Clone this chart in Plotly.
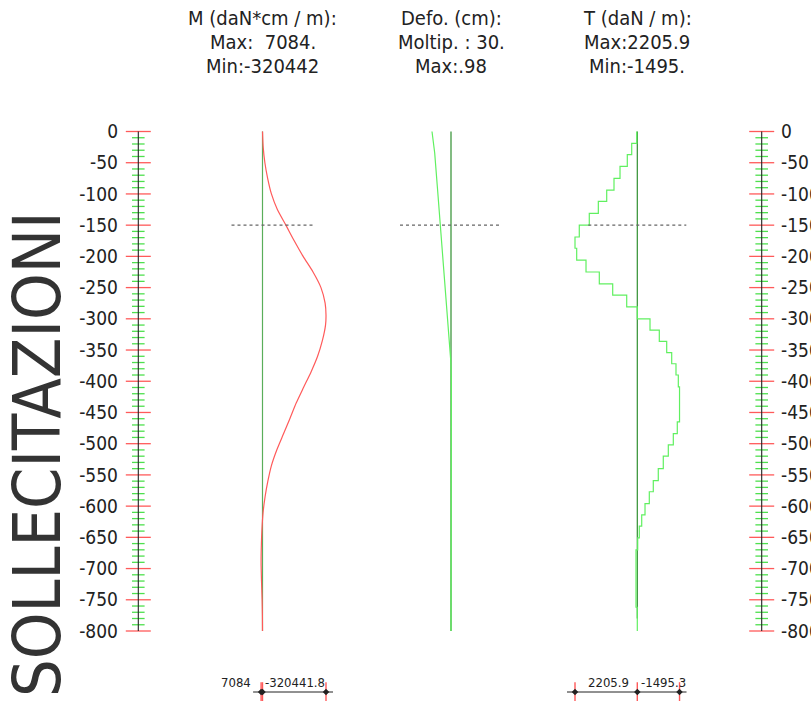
import plotly.graph_objects as go

# ---------------- data ----------------
depth_major = list(range(0, -801, -50))
depth_minor = [d for d in range(0, -801, -10) if d % 50 != 0]
tick_labels = [str(d) for d in depth_major]
excavation_depth = -150
wall_top = 0
wall_bottom = -800

# bending moment M (daN*cm/m) vs depth (cm)
m_depth = [0, -25, -50, -75, -100, -125, -150, -175, -200, -225, -250, -275, -294,
           -310, -335, -360, -385, -410, -435, -460, -485, -510, -535, -560, -585,
           -610, -635, -660, -690, -720, -750, -775, -800]
m_val = [0, -3500, -12000, -26000, -45000, -75000, -118000, -160000, -205000, -255000,
         -295000, -316000, -320441.8, -318000, -302000, -278000, -245000, -207000,
         -170000, -138000, -105000, -72000, -45000, -27000, -13000, -3000, 2500, 5500,
         7084, 5000, 2000, 500, 0]
m_max = 7084.0
m_min = -320441.8

# deformation (cm) vs depth (cm)
defo_depth = [0, -34, -88, -150, -197, -252, -307, -334, -361, -372, -400, -450, -481, -520, -800]
defo_val = [0.98, 0.842, 0.705, 0.55, 0.43, 0.292, 0.155, 0.086, 0.034, 0.0, -0.02, -0.02, 0.0, 0.0, 0.0]
defo_mult = 30
defo_max = 0.98

# shear T (daN/m) vs depth (cm) - step values starting at each depth
t_depth = [0, -19, -37, -56, -75, -94, -112, -131, -150, -169, -187, -206, -225, -244, -262,
           -281, -300, -318, -336, -354, -372, -390, -409, -465, -484, -502, -520, -540,
           -559, -577, -596, -614, -632, -651, -670, -762]
t_val = [20, 198, 354, 612, 825, 1083, 1380, 1700, 2054, 2205.9, 2146, 1816, 1345, 871, 375,
         0, -450, -779, -1041, -1218, -1370, -1452, -1495.3, -1416, -1275, -1098, -920, -743,
         -566, -425, -273, -156, -71, -14, 46, 0]
t_max = 2205.9
t_min = -1495.3

title_m = ["M (daN*cm / m):", "Max: \u00a07084.", "Min:-320442"]
title_d = ["Defo. (cm):", "Moltip. : 30.", "Max:.98"]
title_t = ["T (daN / m):", "Max:2205.9", "Min:-1495."]
scale_m_labels = ["7084", "-320441.8"]
scale_t_labels = ["2205.9", "-1495.3"]
side_title = "SOLLECITAZIONI"

# ---------------- layout constants (pixels) ----------------
W, H = 811, 701
Y0_PX, Y800_PX = 131.5, 631.0
PX_PER_CM = (Y800_PX - Y0_PX) / 800.0
Y_MAX = Y0_PX / PX_PER_CM
Y_MIN = -(H - Y0_PX) / PX_PER_CM
BAR_PX = 692.0
bar_depth = -(BAR_PX - Y0_PX) / PX_PER_CM

FONT = "Liberation Sans Narrow, Arial Narrow, DejaVu Sans Condensed, sans-serif"
RED = "#ff5a5a"
GREEN_MINOR = "#4ee04e"
M_AXIS_GREEN = "#5aae5a"
DARK_GREEN = "#2f8f2f"
LIGHT_GREEN = "#60f060"
BLACK = "#222222"
DASH = "#666666"
TEXT = "#222222"

# axis pixel anchors and scales (units per pixel; positive values plotted to the left)
M_AXIS_PX, M_UPP = 262.5, abs(m_min) / 63.5
D_AXIS_PX, D_UPP = 451.0, defo_max / 19.0
T_AXIS_PX, T_UPP = 637.3, t_max / 62.3
RL_PX, RR_PX = 138.3, 761.7


def rev_range(axis_px, upp):
    return [axis_px * upp, -(W - axis_px) * upp]


def segs(depths, half):
    xs, ys = [], []
    for d in depths:
        xs += [-half, half, None]
        ys += [d, d, None]
    return xs, ys


fig = go.Figure()

# ---------------- rulers ----------------
for xa, ya in (("x4", "y"), ("x5", "y2")):
    xs, ys = segs(depth_minor, 6.3)
    fig.add_trace(go.Scatter(x=xs, y=ys, xaxis=xa, yaxis=ya, mode="lines",
                             line=dict(color=GREEN_MINOR, width=1.3), hoverinfo="skip"))
    xs, ys = segs(depth_major, 12.5)
    fig.add_trace(go.Scatter(x=xs, y=ys, xaxis=xa, yaxis=ya, mode="lines",
                             line=dict(color=RED, width=1.3), hoverinfo="skip"))
    fig.add_trace(go.Scatter(x=[0, 0], y=[wall_top, wall_bottom], xaxis=xa, yaxis=ya,
                             mode="lines", line=dict(color=BLACK, width=1.1), hoverinfo="skip"))

# ---------------- M diagram ----------------
fig.add_trace(go.Scatter(x=[0, 0], y=[wall_top, wall_bottom], xaxis="x", yaxis="y", mode="lines",
                         line=dict(color=M_AXIS_GREEN, width=1.2)))
fig.add_trace(go.Scatter(x=m_val, y=m_depth, xaxis="x", yaxis="y", mode="lines",
                         line=dict(color=RED, width=1.2, shape="spline", smoothing=0.6)))
fig.add_trace(go.Scatter(x=[31 * M_UPP, -51 * M_UPP], y=[excavation_depth] * 2, xaxis="x", yaxis="y",
                         mode="lines", line=dict(color=DASH, width=1.3, dash="dot")))

# ---------------- deformation diagram ----------------
fig.add_trace(go.Scatter(x=[0, 0], y=[wall_top, wall_bottom], xaxis="x2", yaxis="y", mode="lines",
                         line=dict(color=DARK_GREEN, width=1.2)))
fig.add_trace(go.Scatter(x=defo_val, y=defo_depth, xaxis="x2", yaxis="y", mode="lines",
                         line=dict(color=LIGHT_GREEN, width=1.2)))
fig.add_trace(go.Scatter(x=[51 * D_UPP, -49 * D_UPP], y=[excavation_depth] * 2, xaxis="x2", yaxis="y",
                         mode="lines", line=dict(color=DASH, width=1.3, dash="dot")))

# ---------------- shear diagram ----------------
fig.add_trace(go.Scatter(x=[0, 0], y=[wall_top, -780], xaxis="x3", yaxis="y", mode="lines",
                         line=dict(color=DARK_GREEN, width=1.2)))
fig.add_trace(go.Scatter(x=t_val + [t_val[-1]], y=t_depth + [wall_bottom], xaxis="x3", yaxis="y",
                         mode="lines", line=dict(color=LIGHT_GREEN, width=1.2, shape="vh")))
fig.add_trace(go.Scatter(x=[49 * T_UPP, -49 * T_UPP], y=[excavation_depth] * 2, xaxis="x3", yaxis="y",
                         mode="lines", line=dict(color=DASH, width=1.3, dash="dot")))

# ---------------- bottom scale bars ----------------
for xa, vmax, vmin, upp in (("x", m_max, m_min, M_UPP), ("x3", t_max, t_min, T_UPP)):
    fig.add_trace(go.Scatter(x=[vmax + 8 * upp, vmin - 7 * upp], y=[bar_depth] * 2, xaxis=xa, yaxis="y",
                             mode="lines", line=dict(color=BLACK, width=1)))
    fig.add_trace(go.Scatter(x=[vmax, 0, vmin], y=[bar_depth] * 3, xaxis=xa, yaxis="y", mode="markers",
                             marker=dict(symbol="line-ns-open", size=14, color=RED,
                                         line=dict(color=RED, width=1.4))))
    fig.add_trace(go.Scatter(x=[vmax, 0, vmin], y=[bar_depth] * 3, xaxis=xa, yaxis="y", mode="markers",
                             marker=dict(symbol="diamond", size=5, color=BLACK)))

ann = []
lab_font = dict(family=FONT, size=13, color=TEXT)
for xa, xv, txt, sh in (("x", m_max, scale_m_labels[0], -8), ("x", m_min, scale_m_labels[1], 1),
                         ("x3", 0, scale_t_labels[0], -6), ("x3", t_min, scale_t_labels[1], 8)):
    ann.append(dict(xref=xa, yref="y", x=xv, y=bar_depth, text=txt, showarrow=False,
                    xanchor="right", yanchor="bottom", xshift=sh, yshift=0, font=lab_font))

# ---------------- titles ----------------
tfont = dict(family=FONT, size=20, color=TEXT, weight=300)
for xa, lines in (("x", title_m), ("x2", title_d), ("x3", title_t)):
    for i, line in enumerate(lines):
        ann.append(dict(xref=xa, yref="paper", x=0, y=1 - (18 + 24 * i) / H, text=line,
                        showarrow=False, xanchor="center", yanchor="middle", font=tfont))

ann.append(dict(xref="paper", yref="paper", x=37 / W, y=1 - 454 / H, text=side_title, textangle=-90,
                showarrow=False, xanchor="center", yanchor="middle",
                font=dict(family=FONT, size=66, color="#333333", weight=200)))

hidden = dict(visible=False, showgrid=False, zeroline=False, fixedrange=True, domain=[0, 1])
fig.update_layout(
    template="none",
    width=W, height=H, margin=dict(l=0, r=0, t=0, b=0, pad=0),
    paper_bgcolor="white", plot_bgcolor="white", showlegend=False,
    xaxis=dict(hidden, range=rev_range(M_AXIS_PX, M_UPP)),
    xaxis2=dict(hidden, range=rev_range(D_AXIS_PX, D_UPP), overlaying="x"),
    xaxis3=dict(hidden, range=rev_range(T_AXIS_PX, T_UPP), overlaying="x"),
    xaxis4=dict(hidden, range=[-RL_PX, W - RL_PX], overlaying="x"),
    xaxis5=dict(hidden, range=[-RR_PX, W - RR_PX], overlaying="x"),
    yaxis=dict(range=[Y_MIN, Y_MAX], anchor="free", position=118 / W, side="left",
               tickmode="array", tickvals=depth_major, ticktext=tick_labels, ticks="",
               showgrid=False, zeroline=False, showline=False, automargin=False,
               tickfont=dict(family=FONT, size=19, color=TEXT), fixedrange=True),
    yaxis2=dict(range=[Y_MIN, Y_MAX], matches="y", overlaying="y", anchor="free", position=780 / W,
                side="right", tickmode="array", tickvals=depth_major, ticktext=tick_labels, ticks="",
                showgrid=False, zeroline=False, showline=False, automargin=False,
                tickfont=dict(family=FONT, size=19, color=TEXT), fixedrange=True),
    annotations=ann,
)

fig.write_html("out.html", post_script="document.body.style.margin='0';",
               config={"displayModeBar": False, "staticPlot": True})
